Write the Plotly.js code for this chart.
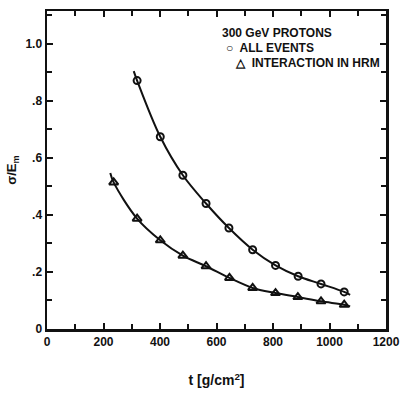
<!DOCTYPE html>
<html>
<head>
<meta charset="utf-8">
<script src="https://cdn.plot.ly/plotly-3.0.1.min.js"></script>
<style>html,body{margin:0;padding:0;background:#fff}#chart{width:406px;height:400px}</style>
</head>
<body>
<div id="chart"></div>
<script>
// Data
var thickAll = [319, 401, 481, 563, 644, 728, 809, 889, 970, 1052];
var sigmaAll = [0.871, 0.674, 0.539, 0.440, 0.354, 0.278, 0.223, 0.185, 0.158, 0.130];
var thickHrm = [236, 319, 401, 481, 563, 646, 728, 809, 888, 970, 1052];
var sigmaHrm = [0.514, 0.387, 0.311, 0.257, 0.220, 0.179, 0.144, 0.126, 0.112, 0.097, 0.085];
// Fitted curves (hand drawn)
var curveAllX = [307, 319, 401, 481, 563, 644, 728, 809, 889, 970, 1052, 1073];
var curveAllY = [0.904, 0.871, 0.674, 0.539, 0.440, 0.354, 0.278, 0.223, 0.185, 0.158, 0.130, 0.120];
var curveHrmX = [224, 236, 319, 401, 481, 563, 646, 728, 809, 888, 970, 1052, 1073];
var curveHrmY = [0.547, 0.514, 0.387, 0.311, 0.257, 0.220, 0.179, 0.144, 0.126, 0.112, 0.097, 0.085, 0.079];
var xTickVals = [0, 200, 400, 600, 800, 1000, 1200];
var xTickText = ['0', '200', '400', '600', '800', '1000', '1200'];
var yTickVals = [0, 0.2, 0.4, 0.6, 0.8, 1.0];
var yTickText = ['0', '.2', '.4', '.6', '.8', '1.0'];

var ink = '#111';
var fam = 'Liberation Sans, Arial, sans-serif';
var fnt = {family: fam, size: 12, color: ink, weight: 'bold'};

var traces = [
  {x: curveAllX, y: curveAllY, mode: 'lines', line: {color: ink, width: 2, shape: 'spline', smoothing: 1}, hoverinfo: 'skip'},
  {x: curveHrmX, y: curveHrmY, mode: 'lines', line: {color: ink, width: 2, shape: 'spline', smoothing: 1}, hoverinfo: 'skip'},
  {x: thickAll, y: sigmaAll, mode: 'markers', marker: {symbol: 'circle-open', size: 7, color: ink, line: {width: 2, color: ink}}},
  {x: thickHrm, y: sigmaHrm, mode: 'markers', marker: {symbol: 'triangle-up-open', size: 8, color: ink, line: {width: 2, color: ink}}}
];

var layout = {
  width: 406, height: 400,
  margin: {l: 47, r: 20, t: 11, b: 71},
  paper_bgcolor: '#fff', plot_bgcolor: '#fff',
  showlegend: false,
  font: fnt,
  xaxis: {
    range: [0, 1200], tickvals: xTickVals, ticktext: xTickText,
    ticks: 'inside', ticklen: 6, tickwidth: 2, tickcolor: ink,
    minor: {dtick: 100, ticks: 'inside', ticklen: 5, tickwidth: 2, tickcolor: ink},
    showline: true, linewidth: 2.5, linecolor: ink, mirror: 'ticks',
    showgrid: false, zeroline: false, tickfont: fnt,
    title: {text: 't [g/cm<sup>2</sup>]', font: {family: fam, size: 14, color: ink, weight: 'bold'}, standoff: 28}
  },
  yaxis: {
    range: [0, 1.115], tickvals: yTickVals, ticktext: yTickText,
    ticks: 'inside', ticklen: 6, tickwidth: 2, tickcolor: ink,
    minor: {dtick: 0.1, ticks: 'inside', ticklen: 5, tickwidth: 2, tickcolor: ink},
    showline: true, linewidth: 2.5, linecolor: ink, mirror: 'ticks',
    showgrid: false, zeroline: false, tickfont: fnt,
    title: {text: 'σ/E<sub>m</sub>', font: {family: fam, size: 13, color: ink, weight: 'bold'}, standoff: 6}
  },
  annotations: [
    {xref: 'paper', yref: 'paper', x: 0.51, y: 0.932, xanchor: 'left', yanchor: 'middle', text: '300 GeV PROTONS', showarrow: false, font: fnt},
    {xref: 'paper', yref: 'paper', x: 0.522, y: 0.884, xanchor: 'left', yanchor: 'middle', text: '○  ALL EVENTS', showarrow: false, font: fnt},
    {xref: 'paper', yref: 'paper', x: 0.55, y: 0.836, xanchor: 'left', yanchor: 'middle', text: '△  INTERACTION IN HRM', showarrow: false, font: fnt}
  ]
};

Plotly.newPlot('chart', traces, layout, {staticPlot: true, displayModeBar: false});
</script>
</body>
</html>
